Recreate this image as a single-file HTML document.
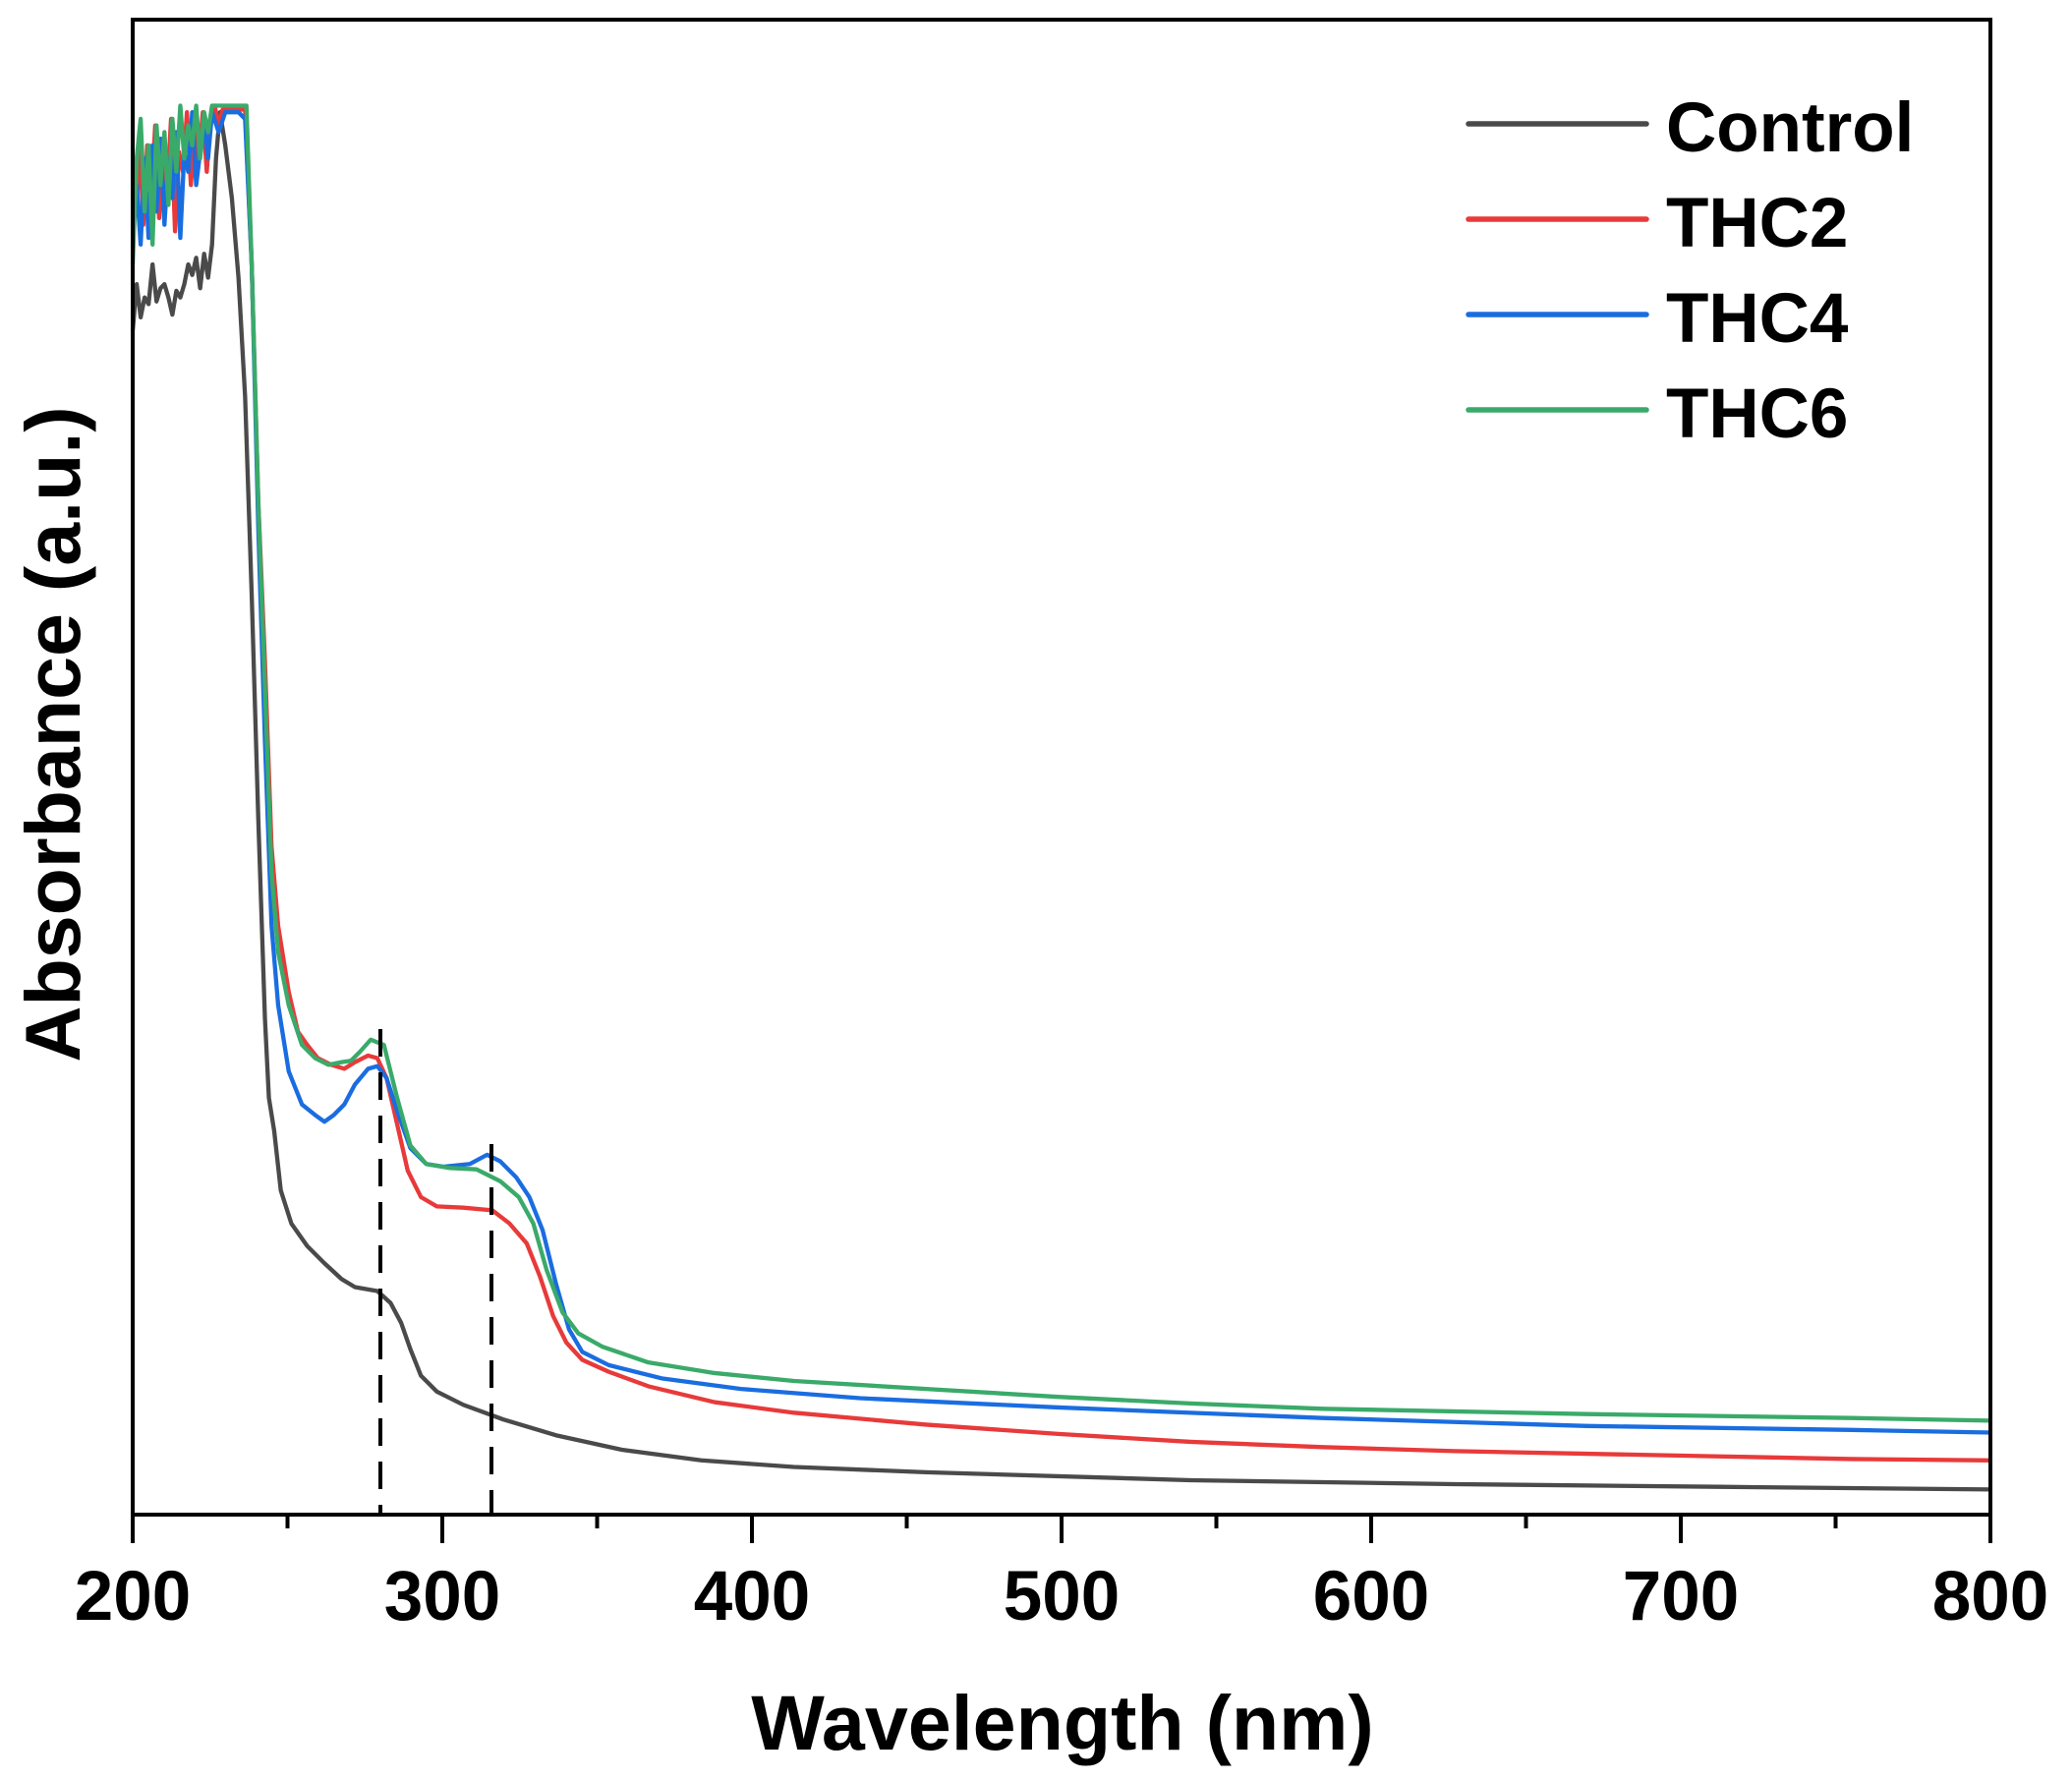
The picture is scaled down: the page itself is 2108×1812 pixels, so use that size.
<!DOCTYPE html>
<html><head><meta charset="utf-8"><style>html,body{margin:0;padding:0;background:#fff}svg{display:block}</style></head>
<body>
<svg width="2108" height="1812" viewBox="0 0 2108 1812" xmlns="http://www.w3.org/2000/svg" font-family="Liberation Sans, Arial, sans-serif" font-weight="bold">
<rect width="2108" height="1812" fill="#fff"/>
<g transform="matrix(1.3452 0 0 1.346 0.5 -0.2)" fill="none" stroke-width="3.2" stroke-linejoin="round">
<polyline stroke="#4a4a4a" points="100,250 103,215 106,240 109,225 112,230 115,200 118,228 121,218 124,215 127,225 130,238 133,220 136,225 139,215 142,200 145,208 148,195 151,218 154,192 157,210 160,185 163,120 166,85 170,110 175,150 180,210 185,300 190,450 195,620 200,770 203,830 207,855 212,900 220,925 232,942 245,955 258,967 268,973 285,976 295,985 303,1000 310,1020 318,1040 330,1052 350,1062 380,1073 420,1085 470,1096 530,1104 600,1109 700,1113 900,1119 1100,1122 1300,1124 1505,1126"/>
<polyline stroke="#e83a3a" points="100,130 103,160 105,100 108,170 111,110 114,150 117,95 120,165 123,105 126,145 129,90 132,175 135,115 138,130 141,85 144,140 147,100 150,120 153,85 156,130 159,90 162,80 165,95 168,83 185,83 190,200 195,380 200,500 205,640 210,700 218,750 225,780 232,790 240,800 250,805 260,808 268,803 278,798 285,800 292,815 300,850 308,885 318,905 330,912 350,913 372,915 385,925 398,940 408,965 418,995 428,1015 440,1028 460,1037 490,1048 540,1060 600,1068 700,1077 800,1084 900,1090 1000,1094 1100,1097 1200,1099 1300,1101 1400,1103 1505,1104"/>
<polyline stroke="#1a6de0" points="100,150 103,140 106,185 109,120 112,180 115,110 118,160 121,105 124,170 127,120 130,150 133,100 136,180 139,115 142,130 145,85 148,140 151,115 154,95 157,120 160,85 165,100 170,85 180,85 185,90 190,200 195,400 200,560 205,700 210,760 218,810 228,835 238,843 245,848 252,843 260,835 268,820 278,808 285,806 292,815 300,840 310,868 322,880 335,882 355,880 368,873 378,878 390,890 400,905 410,930 420,970 430,1005 440,1022 460,1032 500,1042 560,1050 650,1057 800,1064 1000,1072 1200,1078 1400,1081 1505,1083"/>
<polyline stroke="#3aaa6a" points="100,200 103,120 106,90 109,160 112,110 115,185 118,95 121,140 124,100 127,155 130,90 133,130 136,80 139,120 142,95 145,110 148,80 151,120 154,85 157,100 160,80 186,80 190,200 195,380 200,520 205,660 210,720 218,760 228,790 238,800 248,805 258,803 265,802 272,795 280,786 290,790 300,830 310,866 322,880 340,883 360,884 378,893 392,905 403,925 413,960 425,992 437,1008 455,1018 490,1030 540,1038 600,1044 700,1050 800,1056 900,1061 1000,1065 1200,1069 1400,1072 1505,1074"/>
</g>
<g stroke="#000" stroke-width="4" stroke-dasharray="28,16">
<line x1="387" y1="1047" x2="387" y2="1541"/>
<line x1="500" y1="1164" x2="500" y2="1541"/>
</g>
<rect x="135" y="20" width="1890" height="1521" fill="none" stroke="#000" stroke-width="4"/>
<g stroke="#000" stroke-width="4">
<line x1="135" y1="1541" x2="135" y2="1570"/><line x1="450" y1="1541" x2="450" y2="1570"/><line x1="765" y1="1541" x2="765" y2="1570"/><line x1="1080" y1="1541" x2="1080" y2="1570"/><line x1="1395" y1="1541" x2="1395" y2="1570"/><line x1="1710" y1="1541" x2="1710" y2="1570"/><line x1="2025" y1="1541" x2="2025" y2="1570"/>
<line x1="292.5" y1="1541" x2="292.5" y2="1555"/><line x1="607.5" y1="1541" x2="607.5" y2="1555"/><line x1="922.5" y1="1541" x2="922.5" y2="1555"/><line x1="1237.5" y1="1541" x2="1237.5" y2="1555"/><line x1="1552.5" y1="1541" x2="1552.5" y2="1555"/><line x1="1867.5" y1="1541" x2="1867.5" y2="1555"/>
</g>
<g font-size="71" text-anchor="middle" fill="#000">
<text x="135" y="1648">200</text><text x="450" y="1648">300</text><text x="765" y="1648">400</text><text x="1080" y="1648">500</text><text x="1395" y="1648">600</text><text x="1710" y="1648">700</text><text x="2025" y="1648">800</text>
</g>
<text x="1081" y="1780" font-size="79" text-anchor="middle">Wavelength (nm)</text>
<text transform="translate(81,747) rotate(-90)" font-size="79" text-anchor="middle">Absorbance (a.u.)</text>
<g stroke-width="5.5" stroke-linecap="round">
<line x1="1494" y1="126" x2="1675" y2="126" stroke="#4a4a4a"/>
<line x1="1494" y1="223" x2="1675" y2="223" stroke="#e83a3a"/>
<line x1="1494" y1="320" x2="1675" y2="320" stroke="#1a6de0"/>
<line x1="1494" y1="417" x2="1675" y2="417" stroke="#3aaa6a"/>
</g>
<g font-size="71" fill="#000">
<text x="1695" y="154">Control</text><text x="1695" y="251">THC2</text><text x="1695" y="348">THC4</text><text x="1695" y="445">THC6</text>
</g>
</svg>
</body></html>
